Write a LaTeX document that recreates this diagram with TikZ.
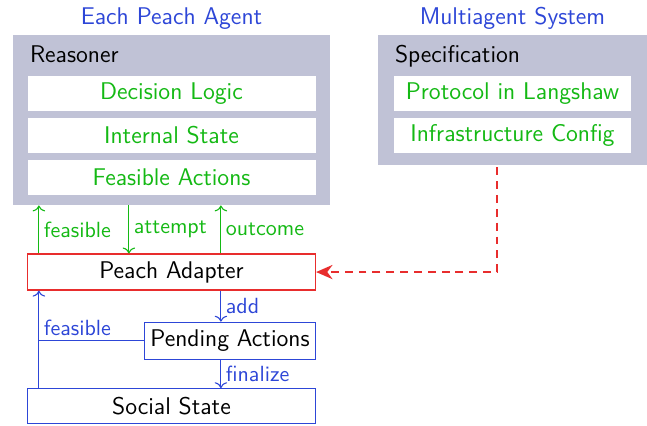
\documentclass[tikz,border=0pt]{standalone}
\usetikzlibrary{positioning, arrows.meta, calc}
\definecolor{panelgray}{RGB}{192,194,214}
\definecolor{titleblue}{RGB}{45,70,215}
\definecolor{partgreen}{RGB}{20,185,20}
\definecolor{adapterred}{RGB}{232,45,45}

\begin{document}
\begin{tikzpicture}[
  font=\sffamily\fontsize{11pt}{13pt}\selectfont,
  node distance=0.096cm,
  panel/.style={rectangle, fill=panelgray, inner sep=0pt},
  head/.style={anchor=base west, inner sep=0pt},
  title/.style={text=titleblue},
  part/.style={rectangle, fill=white, text=partgreen, minimum height=0.56cm, inner sep=0pt},
  layer/.style={rectangle, draw=#1, line width=0.55pt, fill=white, minimum height=0.576cm, inner sep=0pt},
  lbl/.style={font=\sffamily\fontsize{10pt}{12pt}\selectfont, inner sep=2pt},
  greenflow/.style={->, partgreen, line width=0.5pt},
  blueflow/.style={->, titleblue, line width=0.5pt},
  specflow/.style={-{Stealth[length=7.5pt, width=6.5pt]}, adapterred, thick, dash pattern=on 3.6pt off 2.7pt}
]
\useasboundingbox (0,0) rectangle (10.352,6.8);

% Panels
\node[panel, minimum width=5.072cm, minimum height=2.72cm] (agent) at (2.744,4.88) {};
\node[panel, minimum width=4.304cm, minimum height=2.08cm] (system) at (8.2,5.2) {};
\node[title, above=-0.05cm of agent] (agenttitle) {Each Peach Agent};
\node[title, above=-0.05cm of system] (systemtitle) {Multiagent System};

% Reasoner
\node[head] (reasoner) at ($(agent.north west)+(0.272,-0.44)$) {Reasoner};
\node[part, minimum width=4.608cm, below=0.656cm of agent.north] (logic) {Decision Logic};
\node[part, minimum width=4.608cm, below=of logic] (internal) {Internal State};
\node[part, minimum width=4.608cm, below=of internal] (feasible) {Feasible Actions};

% Specification
\node[head] (spec) at ($(system.north west)+(0.272,-0.44)$) {Specification};
\node[part, minimum width=3.792cm, below=0.656cm of system.north] (protocol) {Protocol in Langshaw};
\node[part, minimum width=3.792cm, below=of protocol] (infra) {Infrastructure Config};

% Adapter and state
\node[layer=adapterred, minimum width=4.608cm, below=0.768cm of agent] (adapter) {Peach Adapter};
\node[layer=titleblue, minimum width=2.736cm, minimum height=0.592cm, below left=0.496cm and 0cm of adapter.south east] (pending) {Pending Actions};
\node[layer=titleblue, minimum width=4.608cm, minimum height=0.56cm, below=1.56cm of adapter] (social) {Social State};

\coordinate (colA) at ($(adapter.west)+(0.192,0)$);
\coordinate (colB) at ($(adapter.west)+(1.632,0)$);
\coordinate (colC) at ($(adapter.west)+(3.104,0)$);
\coordinate (specout) at ($(system.south)+(-0.248,-0.03)$);

% Arrows
\draw[greenflow] (colA |- adapter.north) -- node[lbl, right, text=partgreen] {feasible} (colA |- agent.south);
\draw[greenflow] (colB |- agent.south) -- node[lbl, right, text=partgreen] {attempt} (colB |- adapter.north);
\draw[greenflow] (colC |- adapter.north) -- node[lbl, right, text=partgreen] {outcome} (colC |- agent.south);
\draw[blueflow] (colC |- adapter.south) -- node[lbl, right, text=titleblue] {add} (colC |- pending.north);
\draw[blueflow] (colC |- pending.south) -- node[lbl, right, text=titleblue] {finalize} (colC |- social.north);
\draw[blueflow] (colA |- social.north) -- (colA |- adapter.south);
\draw[titleblue, line width=0.5pt] (pending.west) -- (colA |- pending.west) node[lbl, above right, text=titleblue] {feasible};
\draw[specflow] (specout) |- (adapter.east);

\end{tikzpicture}
\end{document}
